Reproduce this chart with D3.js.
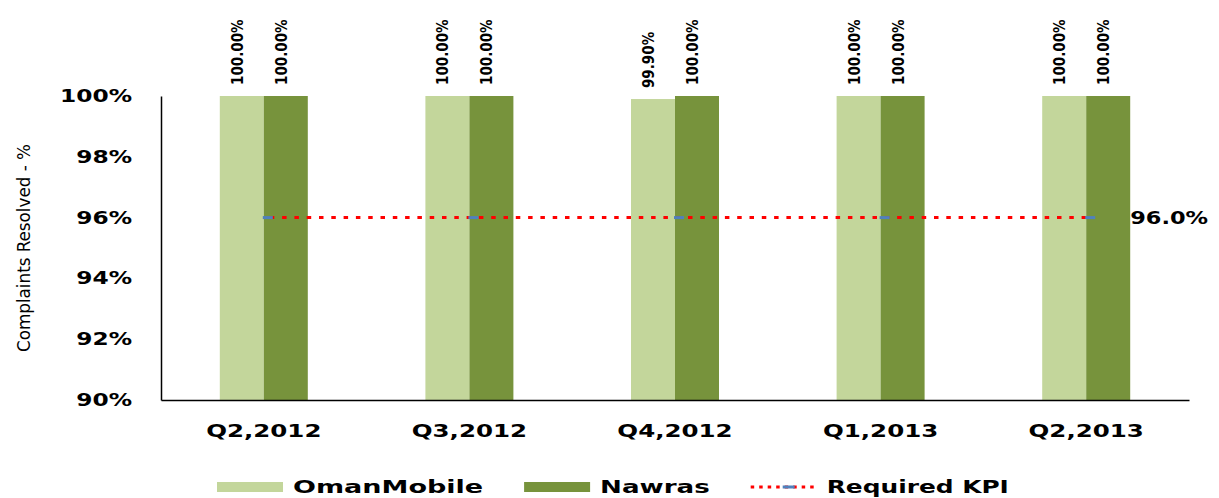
<!DOCTYPE html>
<html>
<head>
<meta charset="utf-8">
<script src="https://cdn.jsdelivr.net/npm/d3@7"></script>
<style>
  body { margin: 0; background: #fff; }
  svg { display: block; }
  text { fill: #000; }
</style>
</head>
<body>
<svg id="chart" width="1219" height="498"></svg>
<script>
// chart values
var quarters = ["Q2,2012", "Q3,2012", "Q4,2012", "Q1,2013", "Q2,2013"]
var omanMobile = [100, 100, 99.9, 100, 100]
var nawras = [100, 100, 100, 100, 100]
var requiredKpi = [96, 96, 96, 96, 96]
var yTicks = [90, 92, 94, 96, 98, 100]
var seriesNames = ["OmanMobile", "Nawras", "Required KPI"]

var color_light = "#c3d69b"
var color_dark = "#77933c"
var legend_stretch = [1.5, 1.45, 1.38]

var svg = d3.select("#chart")
var plot_left = 161, plot_right = 1189, plot_top = 96, plot_bottom = 400

// text in the picture is wide, so stretch it sideways
function stretch(sel, k) {
  sel.each(function() {
    var w = this.getComputedTextLength()
    d3.select(this).attr("textLength", w * k).attr("lengthAdjust", "spacingAndGlyphs")
  })
}

var x = d3.scaleBand().domain(quarters).range([plot_left, plot_right]).paddingInner(0.572).paddingOuter(0.286)
var xs = d3.scaleBand().domain([0, 1]).range([0, x.bandwidth()])
var y = d3.scaleLinear().domain([90, 100]).range([plot_bottom, plot_top])

// bars
var groups = svg.selectAll("g.grp").data(quarters).enter().append("g")
    .attr("class", "grp")
    .attr("transform", function(d) { return "translate(" + x(d) + ",0)" })

groups.selectAll("rect").data(function(d, i) { return [omanMobile[i], nawras[i]] }).enter().append("rect")
    .attr("x", function(d, j) { return xs(j) })
    .attr("width", xs.bandwidth())
    .attr("y", function(d) { return y(d) })
    .attr("height", function(d) { return plot_bottom - y(d) })
    .attr("fill", function(d, j) { return j == 0 ? color_light : color_dark })

// value labels, rotated
groups.selectAll("text.val").data(function(d, i) { return [omanMobile[i], nawras[i]] }).enter().append("text")
    .attr("class", "val")
    .attr("transform", function(d, j) {
      return "translate(" + (xs(j) + xs.bandwidth() / 2 + 1) + "," + (y(d) - 11) + ") rotate(-90)"
    })
    .attr("font-family", "DejaVu Sans Condensed, DejaVu Sans")
    .attr("font-weight", "bold")
    .attr("font-size", 15)
    .text(function(d) { return d.toFixed(2) + "%" })

// axes
var yAxis = svg.append("g").attr("transform", "translate(" + plot_left + ",0)")
    .call(d3.axisLeft(y).tickValues(yTicks).tickSize(0).tickPadding(29).tickFormat(function(d) { return d + "%" }))
yAxis.select(".domain").attr("stroke", "#000").attr("stroke-width", 1.5)
yAxis.selectAll("text").attr("font-family", "DejaVu Sans").attr("font-weight", "bold").attr("font-size", 17)
    .call(stretch, 1.37)

var xAxis = svg.append("g").attr("transform", "translate(0," + plot_bottom + ")")
    .call(d3.axisBottom(x).tickSize(0).tickPadding(0))
xAxis.select(".domain").attr("stroke", "#000").attr("stroke-width", 1.5)
xAxis.selectAll("text").attr("dy", 37).attr("font-family", "DejaVu Sans").attr("font-weight", "bold").attr("font-size", 18)
    .call(stretch, 1.36)

svg.append("text")
    .attr("transform", "translate(30," + ((plot_top + plot_bottom) / 2) + ") rotate(-90)")
    .attr("text-anchor", "middle")
    .attr("font-family", "DejaVu Sans Condensed, Liberation Sans")
    .attr("font-size", 18)
    .attr("textLength", 208)
    .attr("lengthAdjust", "spacingAndGlyphs")
    .text("Complaints Resolved - %")

// required KPI line
var kpiLine = d3.line()
    .x(function(d, i) { return x(quarters[i]) + x.bandwidth() / 2 })
    .y(function(d) { return y(d) })

svg.append("path").datum(requiredKpi)
    .attr("d", kpiLine)
    .attr("fill", "none")
    .attr("stroke", "#ff0000")
    .attr("stroke-width", 3)
    .attr("stroke-dasharray", "4.5,7.8")
    .attr("stroke-dashoffset", -6)

svg.selectAll("rect.mark").data(requiredKpi).enter().append("rect")
    .attr("class", "mark")
    .attr("x", function(d, i) { return x(quarters[i]) + x.bandwidth() / 2 - 1 })
    .attr("y", function(d) { return y(d) - 1.5 })
    .attr("width", 10).attr("height", 3)
    .attr("fill", "#4f81bd")

var last = requiredKpi.length - 1
svg.append("text")
    .attr("x", x(quarters[last]) + x.bandwidth() / 2 + 44)
    .attr("y", y(requiredKpi[last]))
    .attr("dy", "0.36em")
    .attr("font-family", "DejaVu Sans")
    .attr("font-weight", "bold")
    .attr("font-size", 17)
    .text(requiredKpi[last].toFixed(1) + "%")
    .call(stretch, 1.32)

// legend
var lx = 217, ly = 487
seriesNames.forEach(function(name, i) {
  if (i < 2) {
    svg.append("rect").attr("x", lx).attr("y", ly - 5).attr("width", 66).attr("height", 10)
        .attr("fill", i == 0 ? color_light : color_dark)
  } else {
    svg.append("line").attr("x1", lx).attr("x2", lx + 64).attr("y1", ly).attr("y2", ly)
        .attr("stroke", "#ff0000").attr("stroke-width", 3).attr("stroke-dasharray", "3.5,5")
    svg.append("rect").attr("x", lx + 32).attr("y", ly - 1.5).attr("width", 12).attr("height", 3)
        .attr("fill", "#4f81bd")
  }
  var t = svg.append("text")
      .attr("x", lx + 76)
      .attr("y", ly)
      .attr("dy", "0.36em")
      .attr("font-family", "DejaVu Sans")
      .attr("font-weight", "bold")
      .attr("font-size", 18)
      .text(name)
  var w = t.node().getComputedTextLength() * legend_stretch[i]
  t.attr("textLength", w).attr("lengthAdjust", "spacingAndGlyphs")
  lx = lx + 76 + w + 41
})
</script>
</body>
</html>
